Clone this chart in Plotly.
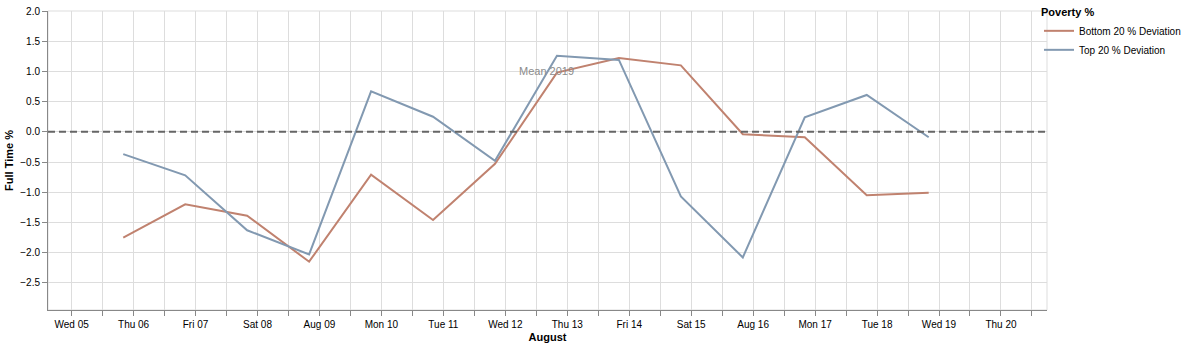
import pandas as pd
import plotly.graph_objects as go

# ---- data ----
dates_utc = ["2020-08-06", "2020-08-07", "2020-08-08", "2020-08-09", "2020-08-10",
             "2020-08-11", "2020-08-12", "2020-08-13", "2020-08-14", "2020-08-15",
             "2020-08-16", "2020-08-17", "2020-08-18", "2020-08-19"]
bottom_20 = [-1.75, -1.20, -1.39, -2.15, -0.71, -1.46, -0.53, 0.98, 1.22, 1.10,
             -0.04, -0.09, -1.05, -1.01]
top_20 = [-0.37, -0.72, -1.63, -2.03, 0.67, 0.25, -0.48, 1.26, 1.19, -1.07,
          -2.08, 0.24, 0.61, -0.09]
series_names = ["Bottom 20 % Deviation", "Top 20 % Deviation"]
tick_dates = ["2020-08-05", "2020-08-06", "2020-08-07", "2020-08-08", "2020-08-09",
              "2020-08-10", "2020-08-11", "2020-08-12", "2020-08-13", "2020-08-14",
              "2020-08-15", "2020-08-16", "2020-08-17", "2020-08-18", "2020-08-19",
              "2020-08-20"]
tick_labels = ["Wed 05", "Thu 06", "Fri 07", "Sat 08", "Aug 09", "Mon 10", "Tue 11",
               "Wed 12", "Thu 13", "Fri 14", "Sat 15", "Aug 16", "Mon 17", "Tue 18",
               "Wed 19", "Thu 20"]
mean_label = "Mean 2019"
mean_label_pos = ("2020-08-12 20:00", 1.0)
x_range = ["2020-08-04 14:51", "2020-08-20 17:50"]
y_range = [-2.95, 2.0]
utc_offset_hours = -4  # displayed in local time (EDT)

x_local = pd.to_datetime(dates_utc) + pd.Timedelta(hours=utc_offset_hours)
ann_x = pd.to_datetime(mean_label_pos[0]) + pd.Timedelta(hours=utc_offset_hours)

FONT = "Liberation Sans, Arial, Helvetica, sans-serif"
colors = ["#c0826f", "#8299b1"]

fig = go.Figure()
for name, vals, col in zip(series_names, [bottom_20, top_20], colors):
    fig.add_trace(go.Scatter(x=x_local, y=vals, mode="lines", name=name,
                             line=dict(color=col, width=2)))

fig.add_hline(y=0, line=dict(color="#666666", width=2, dash="7px,4px"))

fig.add_annotation(x=ann_x, y=mean_label_pos[1], text=mean_label, showarrow=False,
                   font=dict(family=FONT, size=11, color="#8c8c8c"),
                   xanchor="center", yanchor="middle")

fig.update_layout(
    width=1188, height=347,
    margin=dict(l=48, r=141, t=11, b=37, autoexpand=False),
    plot_bgcolor="white", paper_bgcolor="white",
    font=dict(family=FONT, size=10, color="#000"),
    showlegend=True,
    legend=dict(title=dict(text="<b>Poverty %</b>", font=dict(size=11)),
                x=0.992, xanchor="left", y=1.03, yanchor="top",
                font=dict(size=10), tracegroupgap=0, itemwidth=30,
                borderwidth=0, bgcolor="rgba(0,0,0,0)"),
)

fig.update_xaxes(
    type="date", range=x_range, automargin=False,
    tickmode="array", tickvals=pd.to_datetime(tick_dates), ticktext=tick_labels,
    ticks="outside", ticklen=5, tickcolor="#888", tickwidth=1,
    showgrid=True, gridcolor="#ddd", gridwidth=1,
    minor=dict(dtick=43200000, tick0="2020-08-05", ticks="outside", ticklen=5,
               tickcolor="#888", showgrid=True, gridcolor="#ddd", gridwidth=1),
    showline=True, linecolor="#888", linewidth=1, mirror=False,
    zeroline=False,
    title=dict(text="<b>August</b>", font=dict(size=11), standoff=4),
    tickfont=dict(size=10),
)
fig.update_yaxes(
    range=y_range, dtick=0.5, tick0=0, tickformat=".1f", automargin=False,
    ticks="outside", ticklen=5, tickcolor="#888",
    showgrid=True, gridcolor="#ddd", zeroline=False,
    showline=True, linecolor="#888", linewidth=1,
    title=dict(text="<b>Full Time %</b>", font=dict(size=11), standoff=4),
    tickfont=dict(size=10),
)

# view border (light gray) on top and right
fig.add_shape(type="rect", xref="paper", yref="paper", x0=0, x1=1, y0=0, y1=1,
              line=dict(color="#ddd", width=1), layer="below")

fig.write_html("out.html")
